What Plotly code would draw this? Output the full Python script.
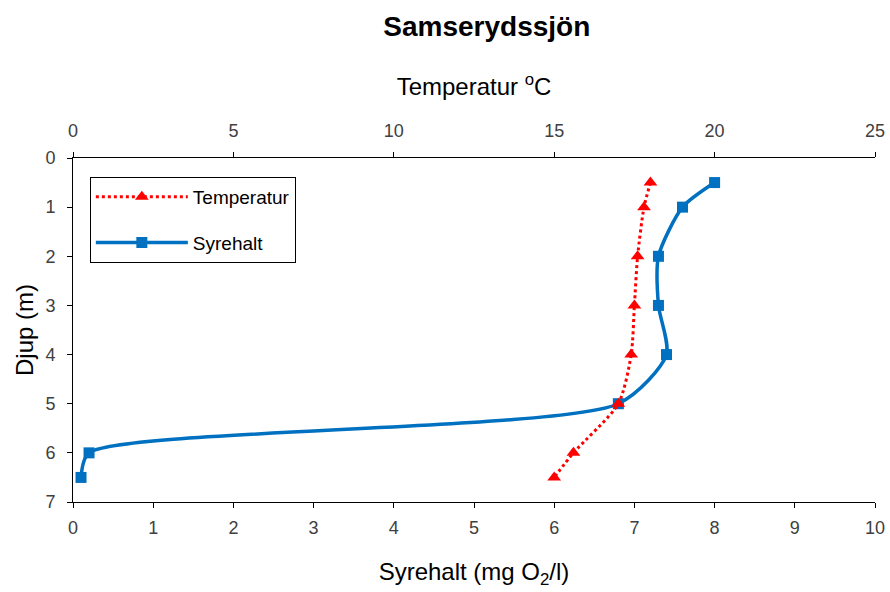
import plotly.graph_objects as go

depth = [0.5, 1, 2, 3, 4, 5, 6, 6.5]
temperatur = [18.0, 17.8, 17.6, 17.5, 17.4, 17.0, 15.6, 15.0]
syrehalt = [8.0, 7.6, 7.3, 7.3, 7.4, 6.8, 0.2, 0.1]

y_ticks = [0, 1, 2, 3, 4, 5, 6, 7]
x_ticks = [0, 1, 2, 3, 4, 5, 6, 7, 8, 9, 10]
x2_ticks = [0, 5, 10, 15, 20, 25]

fig = go.Figure()
fig.add_trace(go.Scatter(
    x=temperatur, y=depth, xaxis="x2", yaxis="y", name="Temperatur",
    mode="lines+markers",
    line=dict(color="#FF0000", width=3, dash="dot", shape="spline", smoothing=0.7),
    marker=dict(symbol="triangle-up", size=12, color="#FF0000"),
    legendgroup="a"))
fig.add_trace(go.Scatter(
    x=syrehalt, y=depth, xaxis="x", yaxis="y", name="Syrehalt",
    mode="lines+markers",
    line=dict(color="#0070C0", width=3.5, shape="spline", smoothing=0.7),
    marker=dict(symbol="square", size=11, color="#0070C0"),
    legendgroup="b"))

tick_font = dict(family="Arial", size=18, color="#404040")
title_font = dict(family="Arial", size=24, color="#000000")
common = dict(showgrid=False, zeroline=False, showline=True, linecolor="#000000", linewidth=1,
              ticks="outside", ticklen=5, tickcolor="#000000", tickfont=tick_font, automargin=False)

fig.update_layout(
    width=890, height=592,
    margin=dict(l=73, r=15, t=158, b=90),
    paper_bgcolor="white", plot_bgcolor="white",
    font=dict(family="Arial", color="#000000"),
    title=dict(text="<b>Samserydssjön</b>", x=0.547, xanchor="center", y=0.955, yanchor="middle",
               font=dict(family="Arial", size=28, color="#000000")),
    xaxis=dict(range=[0, 10], tickvals=x_ticks, ticklabelstandoff=4,
               title=dict(text="Syrehalt (mg O<sub>2</sub>/l)", font=title_font, standoff=26), **common),
    xaxis2=dict(range=[0, 25], tickvals=x2_ticks, overlaying="x", side="top", ticklabelstandoff=8,
                title=dict(text="Temperatur <sup>o</sup>C", font=title_font, standoff=18), **common),
    yaxis=dict(range=[7, 0], tickvals=y_ticks, ticklabelstandoff=8,
               title=dict(text="Djup (m)", font=title_font, standoff=4), **common),
    legend=dict(x=0.021, y=0.945, xanchor="left", yanchor="top", bgcolor="white",
                bordercolor="#000000", borderwidth=1, font=dict(family="Arial", size=19, color="#000000"),
                tracegroupgap=18, itemwidth=92, entrywidth=125, entrywidthmode="pixels"),
    showlegend=True,
)

fig.write_html("out.html")
